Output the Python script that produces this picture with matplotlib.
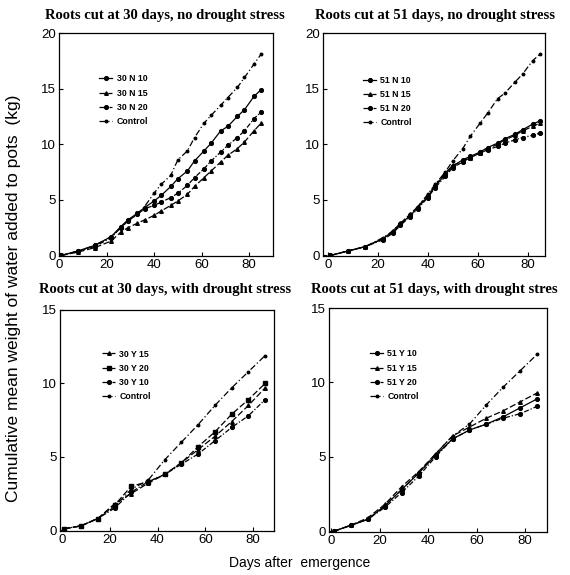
import matplotlib
matplotlib.use("Agg")
import matplotlib.pyplot as plt

# ---------------- data ----------------
days_a = [1, 8, 15, 22, 26, 29, 33, 36, 40, 43, 47, 50, 54, 57, 61, 64, 68, 71, 75, 78, 82, 85]
days_b = [1, 8, 15, 22, 29, 36, 43, 50, 57, 64, 71, 78, 85]

# Roots cut at 30 days, no drought stress
n30_10 = [0, 0.4, 0.9, 1.7, 2.6, 3.2, 3.8, 4.3, 4.9, 5.4, 6.2, 6.9, 7.6, 8.5, 9.4, 10.1, 11.2, 11.6, 12.5, 13.1, 14.3, 14.9]
n30_15 = [0, 0.3, 0.7, 1.3, 2.1, 2.5, 2.9, 3.2, 3.6, 4.0, 4.5, 4.9, 5.5, 6.2, 7.0, 7.6, 8.4, 9.0, 9.6, 10.2, 11.2, 11.9]
n30_20 = [0, 0.4, 0.8, 1.6, 2.5, 3.1, 3.7, 4.2, 4.5, 4.8, 5.2, 5.6, 6.3, 7.0, 7.8, 8.5, 9.3, 9.9, 10.6, 11.2, 12.3, 12.9]
n30_ctl = [0, 0.4, 0.9, 1.7, 2.5, 3.1, 3.7, 4.4, 5.6, 6.4, 7.2, 8.6, 9.4, 10.6, 11.9, 12.6, 13.5, 14.2, 15.1, 16.0, 17.2, 18.1]

# Roots cut at 51 days, no drought stress
n51_10 = [0, 0.4, 0.8, 1.5, 2.1, 2.8, 3.6, 4.3, 5.3, 6.2, 7.3, 8.0, 8.6, 8.9, 9.3, 9.7, 10.1, 10.5, 10.9, 11.3, 11.8, 12.1]
n51_15 = [0, 0.4, 0.8, 1.5, 2.2, 2.9, 3.7, 4.4, 5.4, 6.3, 7.4, 8.1, 8.5, 8.8, 9.2, 9.6, 10.0, 10.4, 10.8, 11.2, 11.6, 11.9]
n51_20 = [0, 0.4, 0.8, 1.4, 2.0, 2.7, 3.5, 4.2, 5.2, 6.1, 7.1, 7.9, 8.4, 8.8, 9.2, 9.5, 9.8, 10.1, 10.4, 10.6, 10.8, 11.0]
n51_ctl = [0, 0.4, 0.8, 1.6, 2.2, 2.9, 3.7, 4.4, 5.5, 6.4, 7.5, 8.5, 9.6, 10.7, 11.9, 12.8, 14.1, 14.6, 15.6, 16.3, 17.5, 18.1]

# Roots cut at 30 days, with drought stress
y30_15 = [0.1, 0.3, 0.8, 1.8, 2.5, 3.2, 3.8, 4.6, 5.5, 6.4, 7.4, 8.5, 9.7]
y30_20 = [0.1, 0.3, 0.8, 1.7, 3.0, 3.3, 3.8, 4.6, 5.7, 6.7, 7.9, 8.9, 10.0]
y30_10 = [0.1, 0.3, 0.8, 1.5, 2.6, 3.3, 3.8, 4.5, 5.2, 6.1, 7.0, 7.8, 8.9]
y30_ctl = [0.1, 0.3, 0.8, 1.6, 2.8, 3.4, 4.8, 6.0, 7.2, 8.5, 9.7, 10.8, 11.9]

# Roots cut at 51 days, with drought stress
y51_10 = [0, 0.4, 0.8, 1.7, 2.8, 3.9, 5.1, 6.2, 6.8, 7.2, 7.7, 8.3, 8.9]
y51_15 = [0, 0.4, 0.9, 1.8, 3.0, 4.0, 5.2, 6.4, 7.0, 7.6, 8.1, 8.7, 9.3]
y51_20 = [0, 0.4, 0.8, 1.6, 2.6, 3.7, 5.0, 6.2, 6.8, 7.2, 7.6, 7.9, 8.4]
y51_ctl = [0, 0.4, 0.8, 1.7, 2.8, 3.9, 5.2, 6.4, 7.2, 8.5, 9.7, 10.8, 11.9]

titles = ["Roots cut at 30 days, no drought stress",
          "Roots cut at 51 days, no drought stress",
          "Roots cut at 30 days, with drought stress",
          "Roots cut at 51 days, with drought stres"]
ylabel = "Cumulative mean weight of water added to pots  (kg)"
xlabel = "Days after  emergence"

# ---------------- styles ----------------
S_SOLID = dict(color="black", lw=0.9, ls="-", marker="o", ms=2.7)
S_TRI = dict(color="black", lw=0.9, ls=(0, (5, 2)), marker="^", ms=2.6)
S_DD = dict(color="black", lw=0.9, ls=(0, (4, 1.5, 1, 1.5)), marker="o", ms=2.7)
S_SQ = dict(color="black", lw=0.9, ls=(0, (5, 2)), marker="s", ms=2.6)
S_CTL = dict(color="black", lw=0.9, ls=(0, (5, 2, 1, 2)), marker="o", ms=1.8)

W, H = 570, 575
fig = plt.figure(figsize=(W / 100, H / 100), dpi=100)


def ax_px(left, right, top, bottom):
    return fig.add_axes([left / W, 1 - bottom / H, (right - left) / W, (bottom - top) / H])


leg_font = {"family": "Liberation Sans", "size": 6.3, "weight": "bold"}


def style(ax, xlim, ylim, yticks):
    ax.set_xlim(*xlim)
    ax.set_ylim(*ylim)
    ax.set_xticks([0, 20, 40, 60, 80])
    ax.set_yticks(yticks)
    ax.tick_params(direction="in", length=3, width=0.8, labelsize=9.5, pad=2)
    for lab in ax.get_xticklabels() + ax.get_yticklabels():
        lab.set_fontfamily("Liberation Sans")
    for sp in ax.spines.values():
        sp.set_linewidth(0.9)


def legend(ax, x, y):
    ax.legend(loc="upper left", bbox_to_anchor=(x, y), frameon=False, prop=leg_font,
              handlelength=1.5, handletextpad=0.5, labelspacing=0.6, borderpad=0,
              borderaxespad=0)


# Top-left
ax1 = ax_px(59, 273, 33, 256)
ax1.plot(days_a, n30_10, label="30 N 10", **S_SOLID)
ax1.plot(days_a, n30_15, label="30 N 15", **S_TRI)
ax1.plot(days_a, n30_20, label="30 N 20", **S_DD)
ax1.plot(days_a, n30_ctl, label="Control", **S_CTL)
style(ax1, (0, 90), (-0.05, 20), [0, 5, 10, 15, 20])
legend(ax1, 0.187, 0.814)

# Top-right
ax2 = ax_px(323, 545, 33, 256)
ax2.plot(days_a, n51_10, label="51 N 10", **S_SOLID)
ax2.plot(days_a, n51_15, label="51 N 15", **S_TRI)
ax2.plot(days_a, n51_20, label="51 N 20", **S_DD)
ax2.plot(days_a, n51_ctl, label="Control", **S_CTL)
style(ax2, (-2, 87), (-0.05, 20), [0, 5, 10, 15, 20])
legend(ax2, 0.18, 0.809)

# Bottom-left
ax3 = ax_px(60, 274, 310, 531)
ax3.plot(days_b, y30_15, label="30 Y 15", **S_TRI)
ax3.plot(days_b, y30_20, label="30 Y 20", **S_SQ)
ax3.plot(days_b, y30_10, label="30 Y 10", **S_DD)
ax3.plot(days_b, y30_ctl, label="Control", **S_CTL)
style(ax3, (-0.8, 88.7), (-0.05, 15), [0, 5, 10, 15])
legend(ax3, 0.196, 0.821)

# Bottom-right
ax4 = ax_px(329, 547, 308, 532)
ax4.plot(days_b, y51_10, label="51 Y 10", **S_SOLID)
ax4.plot(days_b, y51_15, label="51 Y 15", **S_TRI)
ax4.plot(days_b, y51_20, label="51 Y 20", **S_DD)
ax4.plot(days_b, y51_ctl, label="Control", **S_CTL)
style(ax4, (-1, 89), (-0.05, 15), [0, 5, 10, 15])
legend(ax4, 0.188, 0.815)

# Titles
title_pos = [(165, 15), (435, 15), (165, 290), (434, 289)]
for t, (x, y) in zip(titles, title_pos):
    fig.text(x / W, 1 - y / H, t, ha="center", va="center",
             family="Liberation Serif", fontsize=10.5, weight="bold")

fig.text(14 / W, 1 - 298 / H, ylabel, rotation=90, ha="center", va="center",
         family="Liberation Sans", fontsize=12.5)
fig.text(300 / W, 1 - 563 / H, xlabel, ha="center", va="center",
         family="Liberation Sans", fontsize=10)

fig.savefig("out.png", dpi=100)
